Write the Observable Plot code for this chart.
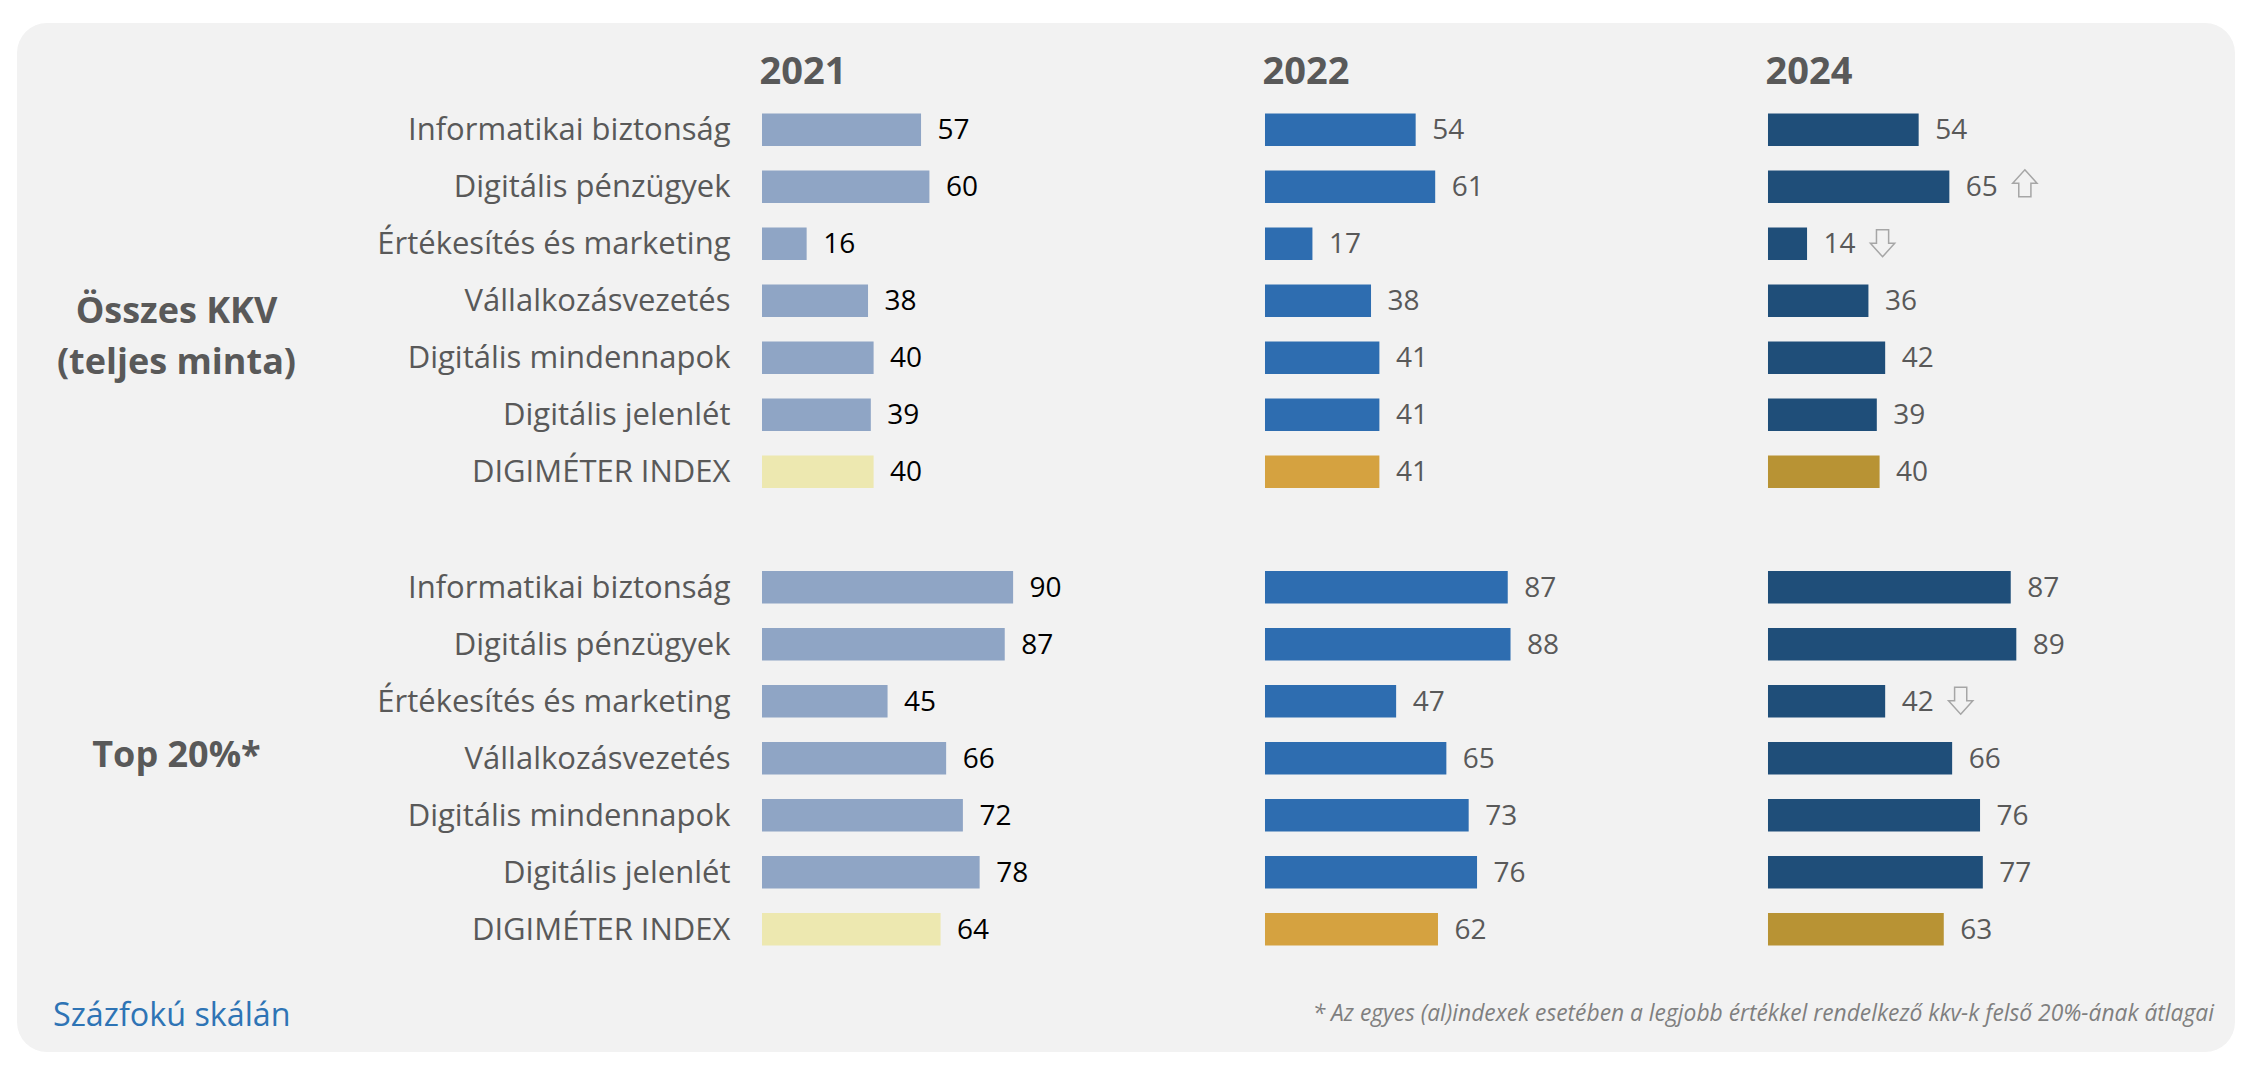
<!DOCTYPE html>
<html>
<head>
<meta charset="utf-8">
<script src="https://cdn.jsdelivr.net/npm/d3@7"></script>
<script src="https://cdn.jsdelivr.net/npm/@observablehq/plot@0.6"></script>
<style>
  html, body { margin: 0; padding: 0; background: #ffffff; }
  #wrap { position: relative; width: 2256px; height: 1068px; overflow: hidden; font-family: "Open Sans", sans-serif; }
  #panel { position: absolute; left: 17px; top: 23px; width: 2218px; height: 1029px; background: #f2f2f2; border-radius: 30px; }
  #chart { position: absolute; left: 0; top: 0; }
  #scale { position: absolute; left: 53px; top: 997px; font-size: 32.3px; line-height: 32.3px; color: #2E74B5; white-space: nowrap; }
  #note { position: absolute; right: 42px; top: 1002px; font-size: 22.8px; line-height: 22.8px; font-style: italic; color: #7f7f7f; white-space: nowrap; }
</style>
</head>
<body>
<div id="wrap">
  <div id="panel"></div>
  <div id="chart"></div>
  <div id="scale">Százfokú skálán</div>
  <div id="note">* Az egyes (al)indexek esetében a legjobb értékkel rendelkező kkv-k felső 20%-ának átlagai</div>
</div>
<script>
// ---- data ----
const years = [2021, 2022, 2024];
const groups = ["Összes KKV\n(teljes minta)", "Top 20%*"];
const categories = [
  "Informatikai biztonság",
  "Digitális pénzügyek",
  "Értékesítés és marketing",
  "Vállalkozásvezetés",
  "Digitális mindennapok",
  "Digitális jelenlét",
  "DIGIMÉTER INDEX"
];
const allSme2021 = [57, 60, 16, 38, 40, 39, 40];
const allSme2022 = [54, 61, 17, 38, 41, 41, 41];
const allSme2024 = [54, 65, 14, 36, 42, 39, 40];
const top2021 = [90, 87, 45, 66, 72, 78, 64];
const top2022 = [87, 88, 47, 65, 73, 76, 62];
const top2024 = [87, 89, 42, 66, 76, 77, 63];
// change markers shown in 2024
const trendGroups = [groups[0], groups[0], groups[1]];
const trendCategories = [categories[1], categories[2], categories[2]];
const trendYears = [2024, 2024, 2024];
const trendDirections = ["up", "down", "down"];

// ---- styles ----
const barColors = ["#8FA5C5", "#2E6DB0", "#1F4E79"];
const indexColors = ["#EDE8B0", "#D5A240", "#B89334"];
const valueColors = ["#000000", "#595959", "#595959"];

// ---- table ----
const series = [[allSme2021, allSme2022, allSme2024], [top2021, top2022, top2024]];
const rows = [];
groups.forEach((g, gi) => years.forEach((yr, yi) => categories.forEach((c, ci) => {
  rows.push({group: g, year: yr, yi, category: c, value: series[gi][yi][ci], isIndex: ci === categories.length - 1});
})));
const trends = trendGroups.map((g, i) => {
  const r = rows.find(d => d.group === g && d.category === trendCategories[i] && d.year === trendYears[i]);
  return {group: g, year: trendYears[i], category: trendCategories[i], value: r.value, dir: trendDirections[i]};
});
const headers = years.map(yr => ({year: yr, group: groups[0]}));
const labelRows = rows.filter(d => d.year === years[0]);

function blockArrow(dir) {
  return {
    draw(context, size) {
      const r = Math.sqrt(size / Math.PI);
      const s = dir === "up" ? -1 : 1;
      const hw = r * 0.9, sw = r * 0.45;
      context.moveTo(0, s * r);
      context.lineTo(hw, 0);
      context.lineTo(sw, 0);
      context.lineTo(sw, -s * r);
      context.lineTo(-sw, -s * r);
      context.lineTo(-sw, 0);
      context.lineTo(-hw, 0);
      context.closePath();
    }
  };
}

const chart = Plot.plot({
  width: 2256,
  height: 1068,
  marginLeft: 762,
  marginRight: 209,
  marginTop: 89,
  marginBottom: 98,
  style: {background: "transparent", overflow: "visible", fontFamily: "'Open Sans', sans-serif"},
  x: {domain: [0, 100], axis: null},
  y: {domain: categories, padding: 0.43, round: false, axis: null},
  fx: {domain: years, paddingInner: 0.4453, paddingOuter: 0, round: false, axis: null},
  fy: {domain: groups, paddingInner: 0.0743, paddingOuter: 0, round: false, axis: null},
  color: {type: "identity"},
  marks: [
    Plot.barX(rows, {
      x: "value", y: "category", fx: "year", fy: "group",
      fill: d => d.isIndex ? indexColors[d.yi] : barColors[d.yi]
    }),
    Plot.text(rows, {
      x: "value", y: "category", fx: "year", fy: "group",
      text: d => String(d.value), dx: 16, textAnchor: "start",
      fontSize: 28, fill: d => valueColors[d.yi]
    }),
    Plot.text(labelRows, {
      x: 0, y: "category", fx: "year", fy: "group",
      text: "category", dx: -32, textAnchor: "end",
      fontSize: 31, fill: "#595959"
    }),
    Plot.text(headers, {
      fx: "year", fy: "group", frameAnchor: "top-left",
      text: d => String(d.year), dx: -3, dy: -6, lineAnchor: "bottom", textAnchor: "start",
      fontSize: 38, fontWeight: 700, fill: "#595959"
    }),
    Plot.text(labelRows.filter(d => d.group === groups[0] && d.category === categories[3]), {
      fx: "year", fy: "group", frameAnchor: "left",
      text: "group", dx: -586, dy: 31, textAnchor: "middle", lineHeight: 1.4,
      fontSize: 36, fontWeight: 700, fill: "#595959"
    }),
    Plot.text(labelRows.filter(d => d.group === groups[1] && d.category === categories[3]), {
      fx: "year", fy: "group", frameAnchor: "left",
      text: "group", dx: -586, dy: -3, textAnchor: "middle",
      fontSize: 36, fontWeight: 700, fill: "#595959"
    }),
    Plot.dot(trends.filter(d => d.dir === "up"), {
      x: "value", y: "category", fx: "year", fy: "group",
      symbol: blockArrow("up"), r: 13.5, dx: 75, dy: -4,
      fill: "#f2f2f2", stroke: "#a6a6a6", strokeWidth: 1.5
    }),
    Plot.dot(trends.filter(d => d.dir === "down"), {
      x: "value", y: "category", fx: "year", fy: "group",
      symbol: blockArrow("down"), r: 13.5, dx: 75, dy: -1,
      fill: "#f2f2f2", stroke: "#a6a6a6", strokeWidth: 1.5
    })
  ]
});
document.getElementById("chart").appendChild(chart);
</script>
</body>
</html>
